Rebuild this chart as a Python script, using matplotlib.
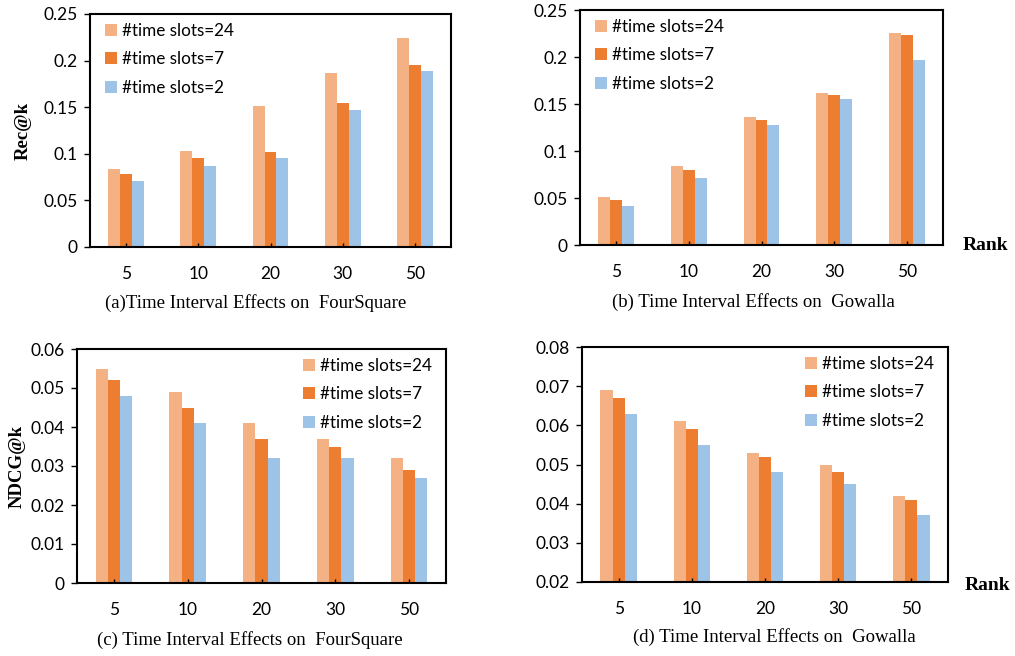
import numpy as np
import matplotlib
matplotlib.use("Agg")
import matplotlib.pyplot as plt

plt.rcParams['font.family'] = ['Lato', 'DejaVu Sans']

ranks = ["5", "10", "20", "30", "50"]
series = ["#time slots=24", "#time slots=7", "#time slots=2"]
colors = ["#F4B183", "#ED7D31", "#9DC3E6"]

rec_fs = [[0.084, 0.103, 0.151, 0.187, 0.224],
          [0.078, 0.095, 0.102, 0.155, 0.195],
          [0.071, 0.087, 0.095, 0.147, 0.189]]
rec_gw = [[0.051, 0.084, 0.136, 0.162, 0.226],
          [0.048, 0.080, 0.133, 0.160, 0.223],
          [0.041, 0.071, 0.128, 0.155, 0.197]]
ndcg_fs = [[0.055, 0.049, 0.041, 0.037, 0.032],
           [0.052, 0.045, 0.037, 0.035, 0.029],
           [0.048, 0.041, 0.032, 0.032, 0.027]]
ndcg_gw = [[0.069, 0.061, 0.053, 0.050, 0.042],
           [0.067, 0.059, 0.052, 0.048, 0.041],
           [0.063, 0.055, 0.048, 0.045, 0.037]]

W, H = 1015, 656
fig = plt.figure(figsize=(W / 100, H / 100), dpi=100)


def rect(x0, y0, x1, y1):
    return [x0 / W, 1 - y1 / H, (x1 - x0) / W, (y1 - y0) / H]


def panel(box, data, ylim, yticks, fmt, legloc, anchor):
    ax = fig.add_axes(rect(*box))
    x = np.arange(len(ranks))
    bw = 0.165
    for i, vals in enumerate(data):
        ax.bar(x + (i - 1) * bw, vals, bw, color=colors[i], label=series[i])
    ax.set_xlim(-0.5, 4.5)
    ax.set_ylim(*ylim)
    ax.set_yticks(yticks)
    ax.set_yticklabels([fmt(v) for v in yticks])
    ax.set_xticks(x)
    ax.set_xticklabels(ranks)
    for s in ax.spines.values():
        s.set_linewidth(1.5)
        s.set_color("black")
    ax.tick_params(axis="y", direction="out", length=4, width=1, labelsize=12.5, pad=5)
    ax.tick_params(axis="x", direction="in", length=3, width=1, labelsize=12.5, pad=14)
    ax.legend(loc=legloc, bbox_to_anchor=anchor, frameon=False, fontsize=12.3,
              handlelength=0.7, handleheight=0.7, handletextpad=0.3,
              labelspacing=0.75, borderaxespad=0.1)
    return ax


def f2(v):
    return "0" if v == 0 else ("%g" % v)


ax1 = panel((90, 14, 451, 247), rec_fs, (0, 0.25),
            [0, 0.05, 0.1, 0.15, 0.2, 0.25], f2, "upper left", (0.017, 1.0))
ax2 = panel((580, 10, 943, 245), rec_gw, (0, 0.25),
            [0, 0.05, 0.1, 0.15, 0.2, 0.25], f2, "upper left", (0.017, 1.0))
ax3 = panel((77, 349, 446, 583), ndcg_fs, (0, 0.06),
            [0, 0.01, 0.02, 0.03, 0.04, 0.05, 0.06],
            lambda v: "0" if v == 0 else "%.2f" % v, "upper right", (0.985, 1.0))
ax4 = panel((582, 347, 948, 582), ndcg_gw, (0.02, 0.08),
            [0.02, 0.03, 0.04, 0.05, 0.06, 0.07, 0.08],
            lambda v: "%.2f" % v, "upper right", (0.985, 1.0))

serif = "Liberation Serif"
ax1.set_ylabel("Rec@k", fontfamily=serif, fontweight="bold", fontsize=13.5, labelpad=8)
ax3.set_ylabel("NDCG@k", fontfamily=serif, fontweight="bold", fontsize=13.5, labelpad=3)

fig.text(985 / W, 1 - 245 / H, "Rank", fontfamily=serif, fontweight="bold",
         fontsize=14, ha="center", va="center")
fig.text(987 / W, 1 - 585 / H, "Rank", fontfamily=serif, fontweight="bold",
         fontsize=14, ha="center", va="center")

caps = [(256, 303, "(a)Time Interval Effects on  FourSquare"),
        (753, 302, "(b) Time Interval Effects on  Gowalla"),
        (250, 640, "(c) Time Interval Effects on  FourSquare"),
        (774, 637, "(d) Time Interval Effects on  Gowalla")]
for cx, cy, t in caps:
    fig.text(cx / W, 1 - cy / H, t, fontfamily=serif, fontsize=13.5,
             ha="center", va="center")

fig.savefig("out.png", dpi=100)
